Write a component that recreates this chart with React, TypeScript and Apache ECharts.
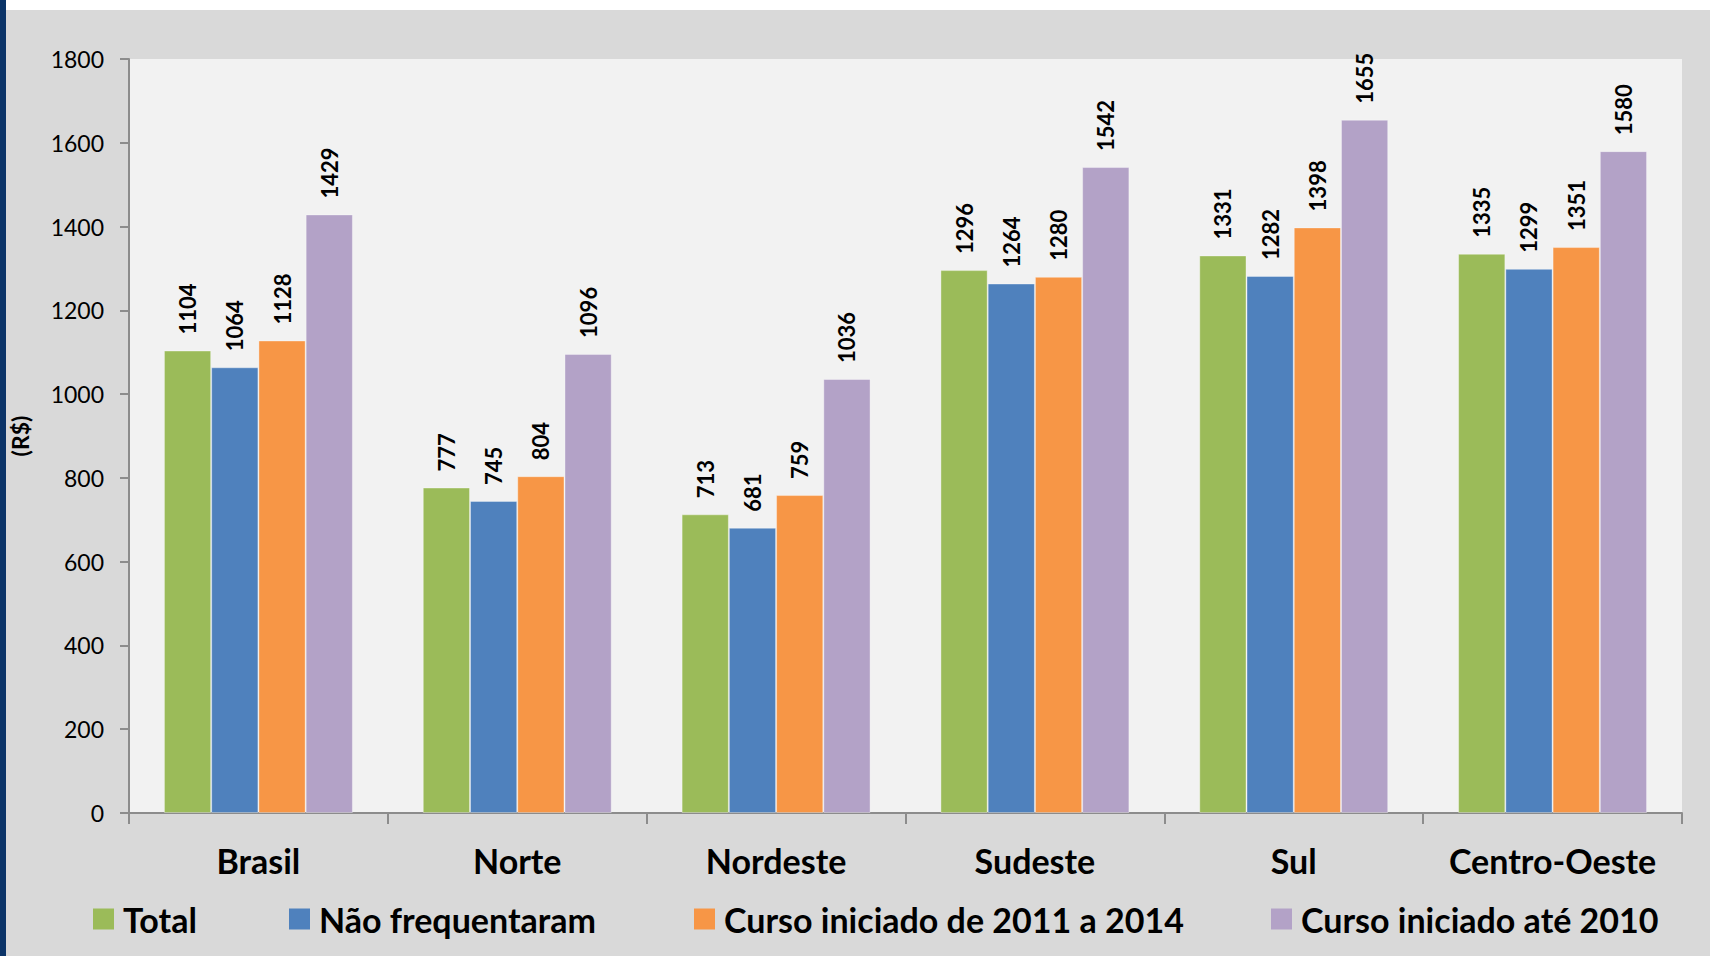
import React, { useEffect, useRef } from "react";
import * as echarts from "echarts";

const categories = ["Brasil", "Norte", "Nordeste", "Sudeste", "Sul", "Centro-Oeste"];
const seriesNames = [
  "Total",
  "Não frequentaram",
  "Curso iniciado de 2011 a 2014",
  "Curso iniciado até 2010",
];
const totalValues = [1104, 777, 713, 1296, 1331, 1335];
const naoFreqValues = [1064, 745, 681, 1264, 1282, 1299];
const curso2011Values = [1128, 804, 759, 1280, 1398, 1351];
const curso2010Values = [1429, 1096, 1036, 1542, 1655, 1580];
const yTicks = { min: 0, max: 1800, interval: 200 };

const colors = ["#9bbb59", "#4f81bd", "#f79646", "#b3a2c7"];
const legendLefts = [88, 284, 689, 1266];
const FONT = "Lato, 'Noto Sans', sans-serif";

export default function App() {
  const ref = useRef<HTMLDivElement>(null);
  useEffect(() => {
    if (!ref.current) return;
    const chart = echarts.init(ref.current, null, { renderer: "svg" });
    const allValues = [totalValues, naoFreqValues, curso2011Values, curso2010Values];
    chart.setOption({
      animation: false,
      backgroundColor: "#d9d9d9",
      textStyle: { fontFamily: FONT },
      graphic: [
        { type: "rect", left: 0, top: 0, shape: { width: 1710, height: 10 }, style: { fill: "#ffffff" }, z: 100 },
        { type: "rect", left: 0, top: 0, shape: { width: 6, height: 956 }, style: { fill: "#0b3468" }, z: 101 },
      ],
      grid: {
        left: 126,
        top: 59,
        right: 28,
        bottom: 143,
        show: true,
        backgroundColor: "#f2f2f2",
        borderWidth: 0,
      },
      legend: seriesNames.map((n, i) => ({
        data: [n],
        left: legendLefts[i],
        top: 897,
        icon: "rect",
        itemWidth: 21,
        itemHeight: 21,
        itemStyle: { borderWidth: 0 },
        textStyle: {
          fontFamily: FONT,
          fontSize: 34,
          fontWeight: "bold",
          color: "#000",
          padding: [0, 0, 0, 4],
        },
      })),
      xAxis: {
        type: "category",
        data: categories,
        axisLine: { lineStyle: { color: "#8c8c8c", width: 2 } },
        axisTick: { show: true, interval: 0, length: 11, lineStyle: { color: "#8c8c8c", width: 2 } },
        axisLabel: {
          interval: 0,
          margin: 30,
          fontFamily: FONT,
          fontSize: 34,
          fontWeight: "bold",
          color: "#000",
        },
        splitLine: { show: false },
      },
      yAxis: {
        type: "value",
        min: yTicks.min,
        max: yTicks.max,
        interval: yTicks.interval,
        name: "(R$)",
        nameLocation: "middle",
        nameRotate: 90,
        nameGap: 98,
        nameTextStyle: { fontFamily: FONT, fontSize: 23, fontWeight: "bold", color: "#000" },
        axisLine: { show: true, lineStyle: { color: "#8c8c8c", width: 2 } },
        axisTick: { show: true, length: 9, lineStyle: { color: "#8c8c8c", width: 2 } },
        axisLabel: {
          margin: 25,
          fontFamily: FONT,
          fontSize: 23,
          color: "#000",
          formatter: (v: number) => String(v),
        },
        splitLine: { show: false },
      },
      series: seriesNames.map((n, i) => ({
        name: n,
        type: "bar",
        data: allValues[i],
        barGap: "0%",
        barCategoryGap: "27%",
        itemStyle: { color: colors[i], borderColor: "rgba(255,255,255,0.35)", borderWidth: 1 },
        label: {
          show: true,
          position: "top",
          rotate: 90,
          align: "left",
          verticalAlign: "middle",
          distance: 16,
          fontFamily: FONT,
          fontSize: 22,
          fontWeight: "bold",
          color: "#000",
        },
      })),
    });
    return () => chart.dispose();
  }, []);
  return (
    <div
      ref={ref}
      style={{ position: "fixed", left: 0, top: 0, width: 1710, height: 956 }}
    />
  );
}
